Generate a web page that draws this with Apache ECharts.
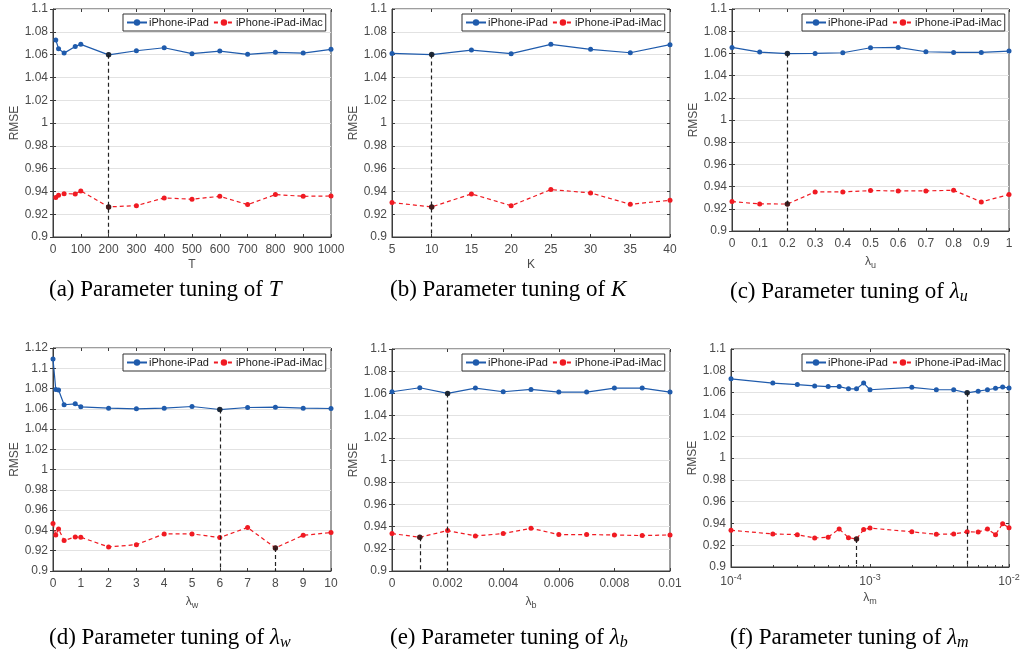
<!DOCTYPE html>
<html>
<head>
<meta charset="utf-8">
<script src="https://cdn.jsdelivr.net/npm/echarts@6/dist/echarts.min.js"></script>
<style>
  html, body { margin: 0; padding: 0; background: #fff; }
  #chart { width: 1021px; height: 662px; }
</style>
</head>
<body>
<div id="chart"></div>
<script>
// ---- data ----
const seriesNames = ['iPhone-iPad', 'iPhone-iPad-iMac'];

const tValues = [10, 20, 40, 80, 100, 200, 300, 400, 500, 600, 700, 800, 900, 1000];
const tIpad = [1.0728, 1.0652, 1.0613, 1.0672, 1.0690, 1.0598, 1.0634, 1.0660, 1.0608, 1.0631, 1.0602, 1.0620, 1.0613, 1.0646];
const tImac = [0.9346, 0.9366, 0.9380, 0.9378, 0.9404, 0.9264, 0.9275, 0.9343, 0.9331, 0.9357, 0.9284, 0.9372, 0.9357, 0.9360];

const kValues = [5, 10, 15, 20, 25, 30, 35, 40];
const kIpad = [1.0610, 1.0600, 1.0640, 1.0608, 1.0690, 1.0646, 1.0616, 1.0687];
const kImac = [0.9302, 0.9264, 0.9378, 0.9275, 0.9416, 0.9387, 0.9287, 0.9322];

const uValues = [0, 0.1, 0.2, 0.3, 0.4, 0.5, 0.6, 0.7, 0.8, 0.9, 1];
const uIpad = [1.0654, 1.0612, 1.0598, 1.0600, 1.0606, 1.0651, 1.0654, 1.0615, 1.0609, 1.0609, 1.0621];
const uImac = [0.9265, 0.9244, 0.9243, 0.9352, 0.9352, 0.9364, 0.9361, 0.9361, 0.9367, 0.9262, 0.9328];

const wValues = [0, 0.1, 0.2, 0.4, 0.8, 1, 2, 3, 4, 5, 6, 7, 8, 9, 10];
const wIpad = [1.1091, 1.0791, 1.0785, 1.0640, 1.0649, 1.0620, 1.0606, 1.0600, 1.0606, 1.0623, 1.0593, 1.0613, 1.0616, 1.0606, 1.0603];
const wImac = [0.9468, 0.9356, 0.9415, 0.9300, 0.9336, 0.9333, 0.9237, 0.9260, 0.9366, 0.9366, 0.9330, 0.9429, 0.9228, 0.9352, 0.9379];

const bValues = [0, 0.001, 0.002, 0.003, 0.004, 0.005, 0.006, 0.007, 0.008, 0.009, 0.01];
const bIpad = [1.0615, 1.0651, 1.0600, 1.0648, 1.0615, 1.0636, 1.0612, 1.0612, 1.0648, 1.0648, 1.0612];
const bImac = [0.9337, 0.9304, 0.9364, 0.9316, 0.9337, 0.9385, 0.9328, 0.9328, 0.9325, 0.9319, 0.9325];

const mValues = [0.0001, 0.0002, 0.0003, 0.0004, 0.0005, 0.0006, 0.0007, 0.0008, 0.0009,
                 0.001, 0.002, 0.003, 0.004, 0.005, 0.006, 0.007, 0.008, 0.009, 0.01];
const mIpad = [1.0726, 1.0687, 1.0674, 1.0661, 1.0655, 1.0655, 1.0635, 1.0635, 1.0687,
               1.0626, 1.0648, 1.0626, 1.0626, 1.0598, 1.0613, 1.0626, 1.0639, 1.0652, 1.0642];
const mImac = [0.9337, 0.9303, 0.9297, 0.9266, 0.9274, 0.9349, 0.9269, 0.9257, 0.9343,
               0.9357, 0.9323, 0.9300, 0.9303, 0.9323, 0.9320, 0.9349, 0.9297, 0.9397, 0.9360];
const mMinorTicks = [0.0002, 0.0003, 0.0004, 0.0005, 0.0006, 0.0007, 0.0008, 0.0009,
                     0.002, 0.003, 0.004, 0.005, 0.006, 0.007, 0.008, 0.009];

// best points (black markers) and dashed drop lines: [series, index]
const panels = [
  { x: tValues, ipad: tIpad, imac: tImac, dots: [['ipad', 5], ['imac', 5]], drops: [['ipad', 5]],
    xMin: 0, xMax: 1000, xStep: 100, yMax: 1.1, xName: 'T',
    caption: '(a) Parameter tuning of {i|T}' },
  { x: kValues, ipad: kIpad, imac: kImac, dots: [['ipad', 1], ['imac', 1]], drops: [['ipad', 1]],
    xMin: 5, xMax: 40, xStep: 5, yMax: 1.1, xName: 'K',
    caption: '(b) Parameter tuning of {i|K}' },
  { x: uValues, ipad: uIpad, imac: uImac, dots: [['ipad', 2], ['imac', 2]], drops: [['ipad', 2]],
    xMin: 0, xMax: 1, xStep: 0.1, yMax: 1.1, xName: '{l|λ}{s|u}',
    caption: '(c) Parameter tuning of {i|λ}{s|u}' },
  { x: wValues, ipad: wIpad, imac: wImac, dots: [['ipad', 10], ['imac', 12]], drops: [['ipad', 10], ['imac', 12]],
    xMin: 0, xMax: 10, xStep: 1, yMax: 1.12, xName: '{l|λ}{s|w}',
    caption: '(d) Parameter tuning of {i|λ}{s|w}' },
  { x: bValues, ipad: bIpad, imac: bImac, dots: [['ipad', 2], ['imac', 1]], drops: [['ipad', 2], ['imac', 1]],
    xMin: 0, xMax: 0.01, xStep: 0.002, yMax: 1.1, xName: '{l|λ}{s|b}',
    caption: '(e) Parameter tuning of {i|λ}{s|b}' },
  { x: mValues, ipad: mIpad, imac: mImac, dots: [['ipad', 13], ['imac', 7]], drops: [['ipad', 13], ['imac', 7]],
    xMin: 0.0001, xMax: 0.01, log: true, yMax: 1.1, xName: '{l|λ}{s|m}',
    caption: '(f) Parameter tuning of {i|λ}{s|m}' }
];

// ---- layout ----
const layout = [
  { left: 53, top: 9, width: 278, height: 228, legend: [123, 14], cap: [49, 278] },
  { left: 392, top: 9, width: 278, height: 228, legend: [462, 14], cap: [390, 278] },
  { left: 732, top: 9, width: 277, height: 222, legend: [802, 14], cap: [730, 278] },
  { left: 53, top: 348, width: 278, height: 223, legend: [123, 354], cap: [49, 624] },
  { left: 392, top: 349, width: 278, height: 222, legend: [462, 354], cap: [390, 624] },
  { left: 731, top: 349, width: 278, height: 218, legend: [802, 354], cap: [730, 624] }
];

const BLUE = '#1f5bac';
const RED = '#f01a22';
const AXIS = '#3c3c3c';
const LABEL = '#4a4a4a';
const SANS = 'Liberation Sans, Arial, sans-serif';
const SERIF = 'Liberation Serif, Times New Roman, serif';
const Y_MIN = 0.9;
const CAP_SIZE = 23;

const nameRich = {
  l: { fontSize: 12, fontFamily: SANS, color: LABEL },
  s: { fontSize: 9, fontFamily: SANS, color: LABEL, padding: [8, 0, 0, 0] }
};
const capRich = {
  i: { fontSize: CAP_SIZE, fontFamily: SERIF, fontStyle: 'italic', color: '#000' },
  s: { fontSize: 16, fontFamily: SERIF, fontStyle: 'italic', color: '#000', padding: [11, 0, 0, 0] }
};
const powRich = {
  b: { fontSize: 12, fontFamily: SANS, color: LABEL },
  p: { fontSize: 9, fontFamily: SANS, color: LABEL, padding: [0, 0, 8, 0] }
};

const option = {
  animation: false,
  backgroundColor: '#fff',
  grid: [], xAxis: [], yAxis: [], series: [], legend: [], title: []
};

panels.forEach((p, i) => {
  const L = layout[i];
  option.grid.push({
    left: L.left, top: L.top, width: L.width, height: L.height,
    show: true, borderColor: AXIS, borderWidth: 1,
    containLabel: false, outerBoundsMode: 'none'
  });

  const xBase = p.log
    ? { type: 'log', logBase: 10, min: p.xMin, max: p.xMax }
    : { type: 'value', min: p.xMin, max: p.xMax, interval: p.xStep };

  const xi = option.xAxis.length;
  option.xAxis.push(Object.assign({}, xBase, {
    gridIndex: i, position: 'bottom',
    name: p.xName, nameLocation: 'middle', nameGap: 22,
    nameTextStyle: { fontSize: 12, fontFamily: SANS, color: LABEL, rich: nameRich },
    axisLine: { show: true, lineStyle: { color: AXIS, width: 1 } },
    axisTick: { show: true, inside: true, length: 3, lineStyle: { color: AXIS } },
    axisLabel: p.log
      ? { margin: 6, formatter: v => '{b|10}{p|' + Math.round(Math.log10(v)) + '}', rich: powRich }
      : { margin: 7, fontSize: 12, fontFamily: SANS, color: LABEL, formatter: v => String(v) },
    splitLine: { show: false }
  }));
  // mirrored ticks on top
  option.xAxis.push(Object.assign({}, xBase, {
    gridIndex: i, position: 'top',
    axisLine: { show: false },
    axisTick: { show: true, inside: true, length: 3, lineStyle: { color: AXIS } },
    axisLabel: { show: false }, splitLine: { show: false }
  }));
  if (p.log) {
    option.xAxis.push(Object.assign({}, xBase, {
      gridIndex: i, position: 'bottom',
      axisLine: { show: false },
      axisTick: { show: true, inside: true, length: 2, customValues: mMinorTicks, lineStyle: { color: AXIS } },
      axisLabel: { show: false }, splitLine: { show: false }
    }));
  }

  const yi = option.yAxis.length;
  option.yAxis.push({
    type: 'value', gridIndex: i, position: 'left',
    min: Y_MIN, max: p.yMax, interval: 0.02,
    name: 'RMSE', nameLocation: 'middle', nameGap: 29,
    nameTextStyle: { fontSize: 12, fontFamily: SANS, color: LABEL },
    axisLine: { show: true, lineStyle: { color: AXIS, width: 1 } },
    axisTick: { show: true, inside: true, length: 3, lineStyle: { color: AXIS } },
    axisLabel: { margin: 5, fontSize: 12, fontFamily: SANS, color: LABEL },
    splitLine: { show: true, lineStyle: { color: '#e2e2e2', width: 1 } }
  });
  option.yAxis.push({
    type: 'value', gridIndex: i, position: 'right',
    min: Y_MIN, max: p.yMax, interval: 0.02,
    axisLine: { show: false },
    axisTick: { show: true, inside: true, length: 3, lineStyle: { color: AXIS } },
    axisLabel: { show: false }, splitLine: { show: false }
  });

  const pts = key => p.x.map((x, k) => [x, p[key][k]]);

  option.series.push({
    name: seriesNames[0], type: 'line', xAxisIndex: xi, yAxisIndex: yi,
    data: pts('ipad'), symbol: 'circle', symbolSize: 5, showSymbol: true,
    itemStyle: { color: BLUE }, lineStyle: { color: BLUE, width: 1.2 }, z: 3
  });
  option.series.push({
    name: seriesNames[1], type: 'line', xAxisIndex: xi, yAxisIndex: yi,
    data: pts('imac'), symbol: 'circle', symbolSize: 5, showSymbol: true,
    itemStyle: { color: RED }, lineStyle: { color: RED, width: 1.2, type: [4, 3] }, z: 3
  });
  option.series.push({
    name: 'best', type: 'scatter', xAxisIndex: xi, yAxisIndex: yi,
    data: p.dots.map(([key, k]) => [p.x[k], p[key][k]]),
    symbol: 'circle', symbolSize: 5.5, itemStyle: { color: '#1c1c1c' }, z: 5, silent: true,
    markLine: {
      silent: true, symbol: ['none', 'none'], label: { show: false },
      lineStyle: { color: '#222', width: 1.2, type: [4, 3] },
      data: p.drops.map(([key, k]) => [
        { coord: [p.x[k], p[key][k]] },
        { coord: [p.x[k], Y_MIN] }
      ])
    }
  });

  option.legend.push({
    data: seriesNames, left: L.legend[0], top: L.legend[1],
    orient: 'horizontal', selectedMode: false,
    itemWidth: 20, itemHeight: 8, itemGap: 4,
    padding: [3, 3, 3, 3],
    borderColor: '#333', borderWidth: 1, backgroundColor: '#fff',
    textStyle: { fontSize: 11, fontFamily: SANS, color: '#1a1a1a', padding: [0, 0, 0, -3] }
  });

  option.title.push({
    text: p.caption, left: L.cap[0], top: L.cap[1], padding: 0,
    textStyle: { fontSize: CAP_SIZE, fontFamily: SERIF, fontWeight: 'normal', color: '#000', rich: capRich }
  });
});

const chart = echarts.init(document.getElementById('chart'));
chart.setOption(option);
</script>
</body>
</html>
